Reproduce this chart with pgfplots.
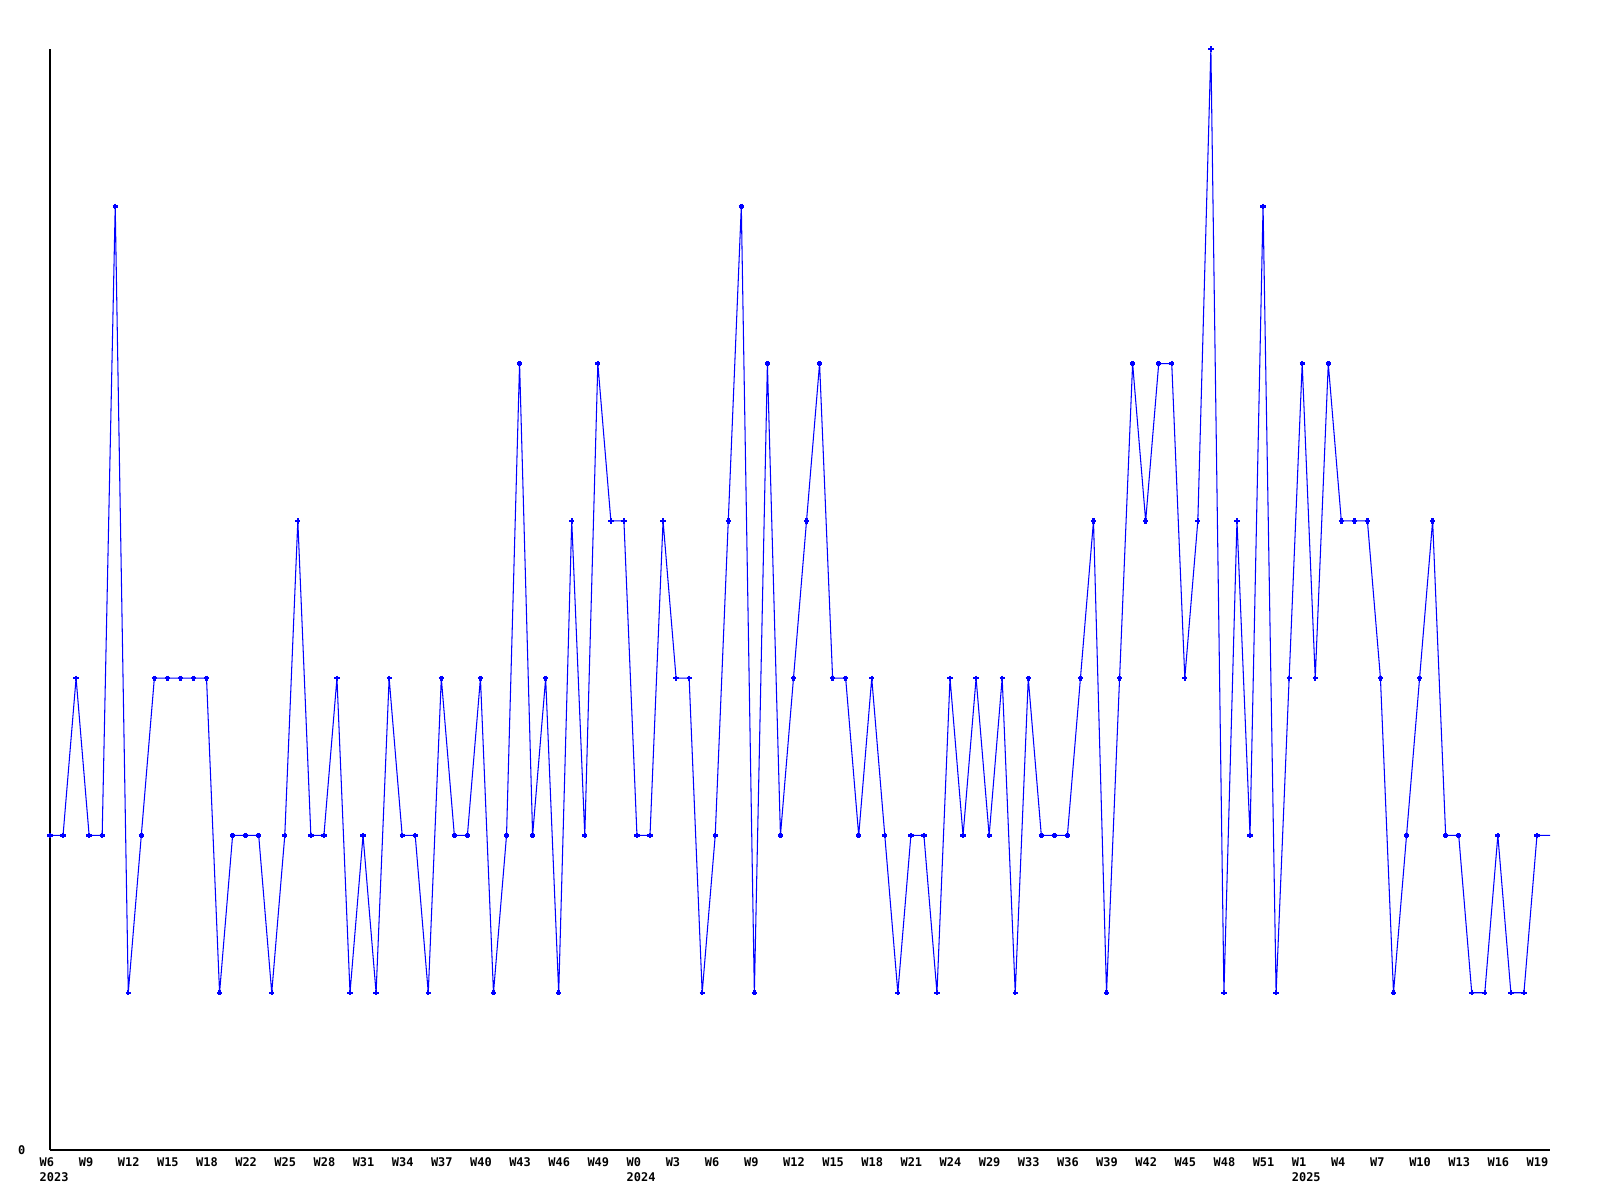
\documentclass[border=0pt]{standalone}
\usepackage{pgfplots}
\pgfplotsset{compat=1.18}
\usepackage{fontspec}
\newfontfamily\lbl{DejaVu Sans Mono}
\begin{document}
\begin{tikzpicture}[x=1cm,y=1cm]
\path[use as bounding box] (0,0) rectangle (16,12);
\begin{axis}[
  at={(0.5cm,0.5cm)}, anchor=south west,
  scale only axis, width=15cm, height=11.01cm,
  xmin=0, xmax=115, ymin=0, ymax=7,
  axis x line=bottom, axis y line=left,
  axis line style={-, black, line width=0.3pt},
  major tick length=0pt,
  xtick={0,3,...,114},
  xticklabels={W6\\2023,W9,W12,W15,W18,W22,W25,W28,W31,W34,W37,W40,W43,W46,W49,W0\\2024,W3,W6,W9,W12,W15,W18,W21,W24,W29,W33,W36,W39,W42,W45,W48,W51,W1\\2025,W4,W7,W10,W13,W16,W19},
  xticklabel style={anchor=north west, inner sep=0pt, align=left, xshift=-0.11cm, yshift=-0.07cm, font=\lbl\bfseries\fontsize{3.4}{4.2}\selectfont},
  ytick={0}, yticklabels={0},
  yticklabel style={anchor=east, inner sep=0pt, xshift=-0.24cm, font=\lbl\bfseries\fontsize{3.4}{4.2}\selectfont},
]
\addplot[color={rgb,255:red,0;green,0;blue,255}, line width=0.3pt, mark=+, mark size=0.75pt, mark options={line width=0.7pt}, mark indices={1,...,115}] table[x=x,y=y] {
x y
0 2
1 2
2 3
3 2
4 2
5 6
6 1
7 2
8 3
9 3
10 3
11 3
12 3
13 1
14 2
15 2
16 2
17 1
18 2
19 4
20 2
21 2
22 3
23 1
24 2
25 1
26 3
27 2
28 2
29 1
30 3
31 2
32 2
33 3
34 1
35 2
36 5
37 2
38 3
39 1
40 4
41 2
42 5
43 4
44 4
45 2
46 2
47 4
48 3
49 3
50 1
51 2
52 4
53 6
54 1
55 5
56 2
57 3
58 4
59 5
60 3
61 3
62 2
63 3
64 2
65 1
66 2
67 2
68 1
69 3
70 2
71 3
72 2
73 3
74 1
75 3
76 2
77 2
78 2
79 3
80 4
81 1
82 3
83 5
84 4
85 5
86 5
87 3
88 4
89 7
90 1
91 4
92 2
93 6
94 1
95 3
96 5
97 3
98 5
99 4
100 4
101 4
102 3
103 1
104 2
105 3
106 4
107 2
108 2
109 1
110 1
111 2
112 1
113 1
114 2
115 2
};
\end{axis}
\end{tikzpicture}
\end{document}
